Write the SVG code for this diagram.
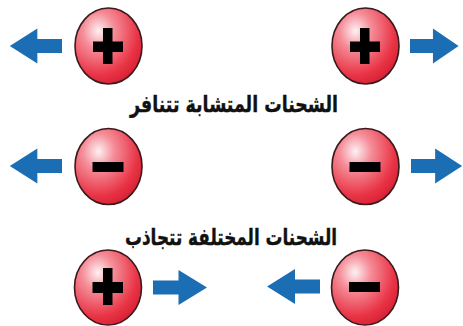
<svg xmlns="http://www.w3.org/2000/svg" width="463" height="326" viewBox="0 0 463 326">
<defs>
<radialGradient id="ball" cx="0.35" cy="0.3" r="0.78">
<stop offset="0" stop-color="#fdf1f3"/>
<stop offset="0.3" stop-color="#f58e99"/>
<stop offset="0.75" stop-color="#e93446"/>
<stop offset="1" stop-color="#d41c30"/>
</radialGradient>
<path id="arrowR" d="M0,-7 L17,-7 L17,-17.5 L36,0 L17,17.5 L17,7 L0,7 Z"/>
</defs>
<style>
.ball{fill:url(#ball);stroke:#3b1a1c;stroke-width:1.6}
.sign{fill:#000}
.arr{fill:#1b6db4}
.lbl{font-family:"DejaVu Sans",sans-serif;font-weight:bold;font-size:23px;fill:#111;stroke:#111;stroke-width:0.4;text-anchor:middle}
</style>
<rect width="463" height="326" fill="#fff"/>
<g id="connectors">
<use href="#arrowR" class="arr" transform="translate(62,46) scale(-1.45,1)"/>
<use href="#arrowR" class="arr" transform="translate(410,46) scale(1.35,1)"/>
<use href="#arrowR" class="arr" transform="translate(62,166) scale(-1.45,1)"/>
<use href="#arrowR" class="arr" transform="translate(411,166) scale(1.42,1)"/>
<use href="#arrowR" class="arr" transform="translate(153,287.5) scale(1.5,1)"/>
<use href="#arrowR" class="arr" transform="translate(320,286.5) scale(-1.47,1)"/>
</g>
<g id="pos-top-left">
<ellipse class="ball" cx="108.5" cy="46" rx="33.5" ry="38"/>
<rect class="sign" x="93" y="41.5" width="30" height="10.5"/>
<rect class="sign" x="103" y="28" width="9.5" height="36"/>
</g>
<g id="pos-top-right">
<ellipse class="ball" cx="365.5" cy="46" rx="33.5" ry="38"/>
<rect class="sign" x="350" y="41.5" width="30" height="10.5"/>
<rect class="sign" x="360" y="28" width="9.5" height="36"/>
</g>
<g id="label-repel">
<text class="lbl" x="234" y="112" direction="rtl" textLength="208" lengthAdjust="spacingAndGlyphs">الشحنات المتشابة تتنافر</text>
</g>
<g id="neg-mid-left">
<ellipse class="ball" cx="108.5" cy="166.5" rx="33.5" ry="38"/>
<rect class="sign" x="92.5" y="162" width="31" height="10"/>
</g>
<g id="neg-mid-right">
<ellipse class="ball" cx="365.5" cy="166.5" rx="33.5" ry="38"/>
<rect class="sign" x="349.5" y="162" width="31" height="10"/>
</g>
<g id="label-attract">
<text class="lbl" x="231" y="245" direction="rtl" textLength="212" lengthAdjust="spacingAndGlyphs">الشحنات المختلفة تتجاذب</text>
</g>
<g id="pos-bottom-left">
<ellipse class="ball" cx="108" cy="287.5" rx="33.5" ry="37.5"/>
<rect class="sign" x="92.5" y="282" width="30.5" height="11"/>
<rect class="sign" x="103" y="268" width="9.5" height="37"/>
</g>
<g id="neg-bottom-right">
<ellipse class="ball" cx="365" cy="287.5" rx="33.5" ry="37.5"/>
<rect class="sign" x="349" y="282" width="31" height="10"/>
</g>
</svg>
